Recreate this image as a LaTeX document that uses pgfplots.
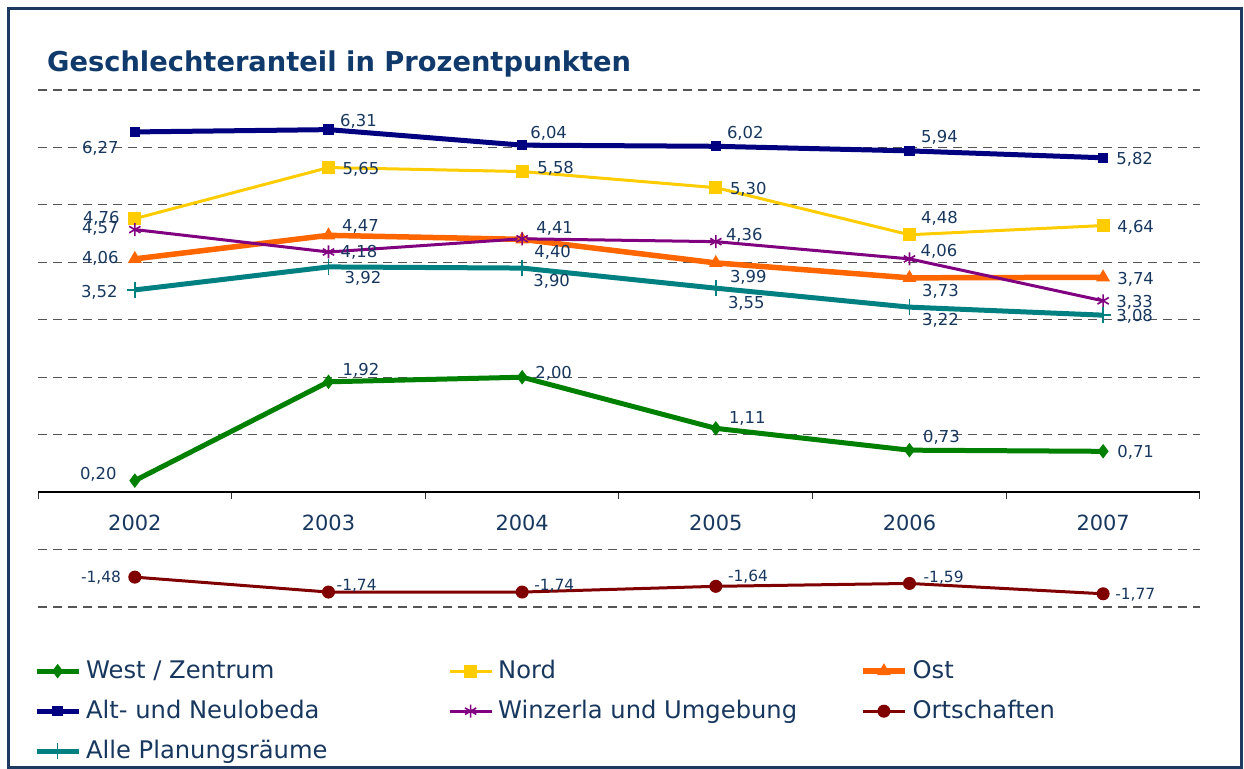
\documentclass[border=0pt]{standalone}
\usepackage{pgfplots}
\pgfplotsset{compat=1.18}
\usepackage{fontspec}
\setmainfont{DejaVu Sans}
\definecolor{txt}{HTML}{17375E}
\definecolor{ttl}{HTML}{0F3A6B}
\definecolor{framec}{HTML}{1F3A60}
\definecolor{cWest}{HTML}{008000}
\definecolor{cNord}{HTML}{FFCC00}
\definecolor{cOst}{HTML}{FF6600}
\definecolor{cAlt}{HTML}{000080}
\definecolor{cWin}{HTML}{800080}
\definecolor{cOrt}{HTML}{800000}
\definecolor{cAlle}{HTML}{008080}
\definecolor{gridc}{HTML}{555555}
\tikzset{lbl/.style={font=\fontsize{16.5}{20}\selectfont, text=txt, inner sep=0pt, anchor=base west},
  lbls/.style={font=\fontsize{15.5}{19}\selectfont, text=txt, inner sep=0pt, anchor=base west}}
\newcommand{\lab}[5]{\node[lbl,xshift=#3bp,yshift=#4bp] at (axis cs:#1,#2) {#5};}
\newcommand{\labs}[5]{\node[lbls,xshift=#3bp,yshift=#4bp] at (axis cs:#1,#2) {#5};}
\begin{document}
\begin{tikzpicture}[x=1bp,y=1bp]
\useasboundingbox (0,0) rectangle (1244,769);
\draw[framec, line width=3bp] (8.7,1.5) rectangle (1241,760.3);
\node[anchor=base west, text=ttl, font=\fontsize{27.4}{32}\selectfont\bfseries, inner sep=0pt] at (47,697) {Geschlechteranteil in Prozentpunkten};
\begin{axis}[
 at={(38bp,162bp)}, anchor=south west,
 scale only axis, width=1162bp, height=517bp,
 xmin=-0.5, xmax=5.5, ymin=-2, ymax=7,
 axis x line=middle, axis y line=left,
 hide obscured x ticks=false,
 axis line style={-},
 y axis line style={draw=none},
 x axis line style={black, line width=1.3bp},
 xtick={0,...,5}, xticklabels={2002,2003,2004,2005,2006,2007},
 major x tick style={draw=none},
 minor xtick={-0.5,0.5,...,5.5},
 minor x tick style={black!80, line width=1bp},
 minor tick length=7bp, tick align=outside,
 xticklabel style={font=\fontsize{21}{25}\selectfont, text=txt, yshift=-15bp},
 ytick={-2,-1,1,2,3,4,5,6,7}, yticklabels={}, major y tick style={draw=none},
 ymajorgrids, y grid style={gridc, line width=1.2bp, dash pattern=on 9bp off 6bp},
 clip=false,
 legend columns=3,
 legend cell align=left,
 legend style={at={(-0.0035,-0.1025)}, anchor=north west, draw=none, fill=none, inner sep=0pt,
   font=\fontsize{24.3}{28}\selectfont, text=txt,
   /tikz/every odd column/.append style={column sep=5bp},
   nodes={inner sep=0pt, text height=18bp, text depth=4bp}, row sep=18bp},
 legend image code/.code={\draw[mark repeat=2, mark phase=2,#1] plot coordinates {(0bp,0bp) (21bp,0bp) (42bp,0bp)};},
]
\addplot[cWest, line width=5bp, mark=diamond*, mark size=6.5bp, mark options={solid, line width=1bp}]
 coordinates {(0,0.20) (1,1.92) (2,2.00) (3,1.11) (4,0.73) (5,0.71)};
\addlegendentry{\makebox[362bp][l]{West / Zentrum}}
\addplot[cNord, line width=3bp, mark=square*, mark size=6bp, mark options={solid, line width=1bp}]
 coordinates {(0,4.76) (1,5.65) (2,5.58) (3,5.30) (4,4.48) (5,4.64)};
\addlegendentry{\makebox[362bp][l]{Nord}}
\addplot[cOst, line width=5.5bp, mark=triangle*, mark size=7bp, mark options={solid, line width=1bp}]
 coordinates {(0,4.06) (1,4.47) (2,4.40) (3,3.99) (4,3.73) (5,3.74)};
\addlegendentry{Ost}
\addplot[cAlt, line width=5bp, mark=square*, mark size=4.7bp, mark options={solid, line width=1bp}]
 coordinates {(0,6.27) (1,6.31) (2,6.04) (3,6.02) (4,5.94) (5,5.82)};
\addlegendentry{\makebox[362bp][l]{Alt- und Neulobeda}}
\addplot[cWin, line width=3bp, mark=asterisk, mark size=6.5bp, mark options={solid, line width=1.6bp}]
 coordinates {(0,4.57) (1,4.18) (2,4.41) (3,4.36) (4,4.06) (5,3.33)};
\addlegendentry{\makebox[362bp][l]{Winzerla und Umgebung}}
\addplot[cOrt, line width=3bp, mark=*, mark size=6bp, mark options={solid, line width=1bp}]
 coordinates {(0,-1.48) (1,-1.74) (2,-1.74) (3,-1.64) (4,-1.59) (5,-1.77)};
\addlegendentry{Ortschaften}
\addplot[cAlle, line width=5bp, mark=+, mark size=8bp, mark options={solid, line width=1.6bp}]
 coordinates {(0,3.52) (1,3.92) (2,3.90) (3,3.55) (4,3.22) (5,3.08)};
\addlegendentry{\makebox[362bp][l]{Alle Planungsräume}}
% Alt- und Neulobeda
\lab{0}{6.27}{-53}{-21.5}{6,27}
\lab{1}{6.31}{11.5}{3}{6,31}
\lab{2}{6.04}{8}{7}{6,04}
\lab{3}{6.02}{11}{8}{6,02}
\lab{4}{5.94}{11.5}{8}{5,94}
\lab{5}{5.82}{13}{-7}{5,82}
% Nord
\lab{0}{4.76}{-52}{-5}{4,76}
\lab{1}{5.65}{14}{-7}{5,65}
\lab{2}{5.58}{15}{-2}{5,58}
\lab{3}{5.30}{14}{-7}{5,30}
\lab{4}{4.48}{11.5}{11}{4,48}
\lab{5}{4.64}{14}{-7}{4,64}
% Ost
\lab{0}{4.06}{-53}{-5}{4,06}
\lab{1}{4.47}{13.5}{4}{4,47}
\lab{2}{4.40}{12}{-18}{4,40}
\lab{3}{3.99}{14}{-20}{3,99}
\lab{4}{3.73}{12.5}{-19}{3,73}
\lab{5}{3.74}{14}{-7}{3,74}
% Winzerla
\lab{0}{4.57}{-53}{-4}{4,57}
\lab{1}{4.18}{12}{-6}{4,18}
\lab{2}{4.41}{14}{5.5}{4,41}
\lab{3}{4.36}{10}{1.5}{4,36}
\lab{4}{4.06}{11}{2}{4,06}
\lab{5}{3.33}{13}{-6.5}{3,33}
% Alle
\lab{0}{3.52}{-54}{-8}{3,52}
\lab{1}{3.92}{16}{-17}{3,92}
\lab{2}{3.90}{11}{-18}{3,90}
\lab{3}{3.55}{12}{-20}{3,55}
\lab{4}{3.22}{12.5}{-18}{3,22}
\lab{5}{3.08}{13}{-6}{3,08}
% West
\lab{0}{0.20}{-55}{1.5}{0,20}
\lab{1}{1.92}{14}{6.5}{1,92}
\lab{2}{2.00}{13}{-1}{2,00}
\lab{3}{1.11}{13}{5}{1,11}
\lab{4}{0.73}{13.5}{8}{0,73}
\lab{5}{0.71}{14}{-6.5}{0,71}
% Ortschaften
\labs{0}{-1.48}{-54}{-5.6}{-1,48}
\labs{1}{-1.74}{8}{1.4}{-1,74}
\labs{2}{-1.74}{12}{1.4}{-1,74}
\labs{3}{-1.64}{12}{4.4}{-1,64}
\labs{4}{-1.59}{14}{1.4}{-1,59}
\labs{5}{-1.77}{12}{-5.6}{-1,77}
\end{axis}
\end{tikzpicture}
\end{document}
